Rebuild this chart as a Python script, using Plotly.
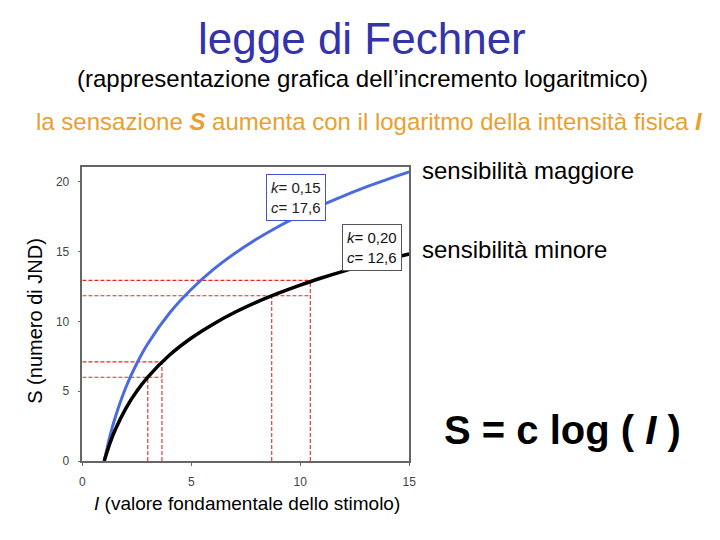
import plotly.graph_objects as go

# valori
intensita = [1, 1.25, 1.5, 2, 2.5, 3, 4, 5, 6, 7, 8, 9, 10, 11, 12, 13, 14, 15]
s_maggiore = [0, 1.71, 3.10, 5.30, 7.00, 8.40, 10.60, 12.30, 13.70, 14.87,
              15.89, 16.79, 17.60, 18.33, 18.99, 19.61, 20.17, 20.70]
s_minore = [0, 1.22, 2.22, 3.79, 5.01, 6.01, 7.59, 8.81, 9.80, 10.65,
            11.38, 12.02, 12.60, 13.12, 13.60, 14.04, 14.44, 14.82]

# linee rosse di riferimento (coppie)
guide_x = [[3.0, 3.65], [8.69, 10.46]]
guide_y = [[6.0, 7.1], [11.83, 12.93]]

x_ticks = [0, 5, 10, 15]
y_ticks = [0, 5, 10, 15, 20]

FONT = "Liberation Sans, Arial, sans-serif"
ROSSO = "#e02828"
SY = 0.987  # la foto schiaccia un po' in verticale
SX = 0.993


def px(v):
    return v / SX / 720


def py(v):
    # pixel verticale del riferimento -> coordinata paper
    return 1 - v / SY / 540


fig = go.Figure()

# guide tratteggiate
for gx, gy in zip(guide_x, guide_y):
    destra = max(gx)
    for xv, yv in zip(gx, gy):
        fig.add_trace(go.Scatter(x=[0, destra], y=[yv, yv], mode="lines",
                                 line=dict(color=ROSSO, width=1.1, dash="4px,2px"),
                                 hoverinfo="skip"))
        fig.add_trace(go.Scatter(x=[xv, xv], y=[0, yv], mode="lines",
                                 line=dict(color=ROSSO, width=1.1, dash="4px,2px"),
                                 hoverinfo="skip"))

fig.add_trace(go.Scatter(x=intensita, y=s_maggiore, mode="lines", line_shape="spline",
                         line=dict(color="#4a6be0", width=3)))
fig.add_trace(go.Scatter(x=intensita, y=s_minore, mode="lines", line_shape="spline",
                         line=dict(color="black", width=3.5)))

asse = dict(showgrid=False, zeroline=False, showline=True, linecolor="#666666",
            linewidth=1.5, mirror=True, ticks="outside", ticklen=3,
            tickcolor="#666666", ticklabelstandoff=6,
            tickfont=dict(size=12, color="#444444", family=FONT))
fig.update_xaxes(range=[0, 15], tickvals=x_ticks, domain=[px(80), px(409)], **asse)
fig.update_yaxes(range=[0, 21.05], tickvals=y_ticks, domain=[py(461), py(167)], **asse)

fig.add_annotation(x=9.8, y=18.9, xref="x", yref="y", showarrow=False, align="left",
                   text="<i>k</i>= 0,15<br><i>c</i>= 17,6", bgcolor="white",
                   bordercolor="#4455cc", borderwidth=1, borderpad=4,
                   font=dict(size=15, color="#222222", family=FONT))
fig.add_annotation(x=13.3, y=15.3, xref="x", yref="y", showarrow=False, align="left",
                   text="<i>k</i>= 0,20<br><i>c</i>= 12,6", bgcolor="white",
                   bordercolor="#555555", borderwidth=1, borderpad=4,
                   font=dict(size=15, color="#111111", family=FONT))

testi = [
    (362, 38, "legge di Fechner", 44, "#3333aa"),
    (362, 78, "(rappresentazione grafica dell\u2019incremento logaritmico)", 24, "black"),
    (369, 121, "la sensazione <b><i>S</i></b> aumenta con il logaritmo della intensit\u00e0 fisica <b><i>I</i></b>",
     24, "#e8a030"),
    (246, 503, "<i>I</i> (valore fondamentale dello stimolo)", 19, "black"),
]
for pxv, pyv, t, size, col in testi:
    fig.add_annotation(x=px(pxv), y=py(pyv), xref="paper", yref="paper", showarrow=False,
                       xanchor="center", yanchor="middle",
                       text=t, font=dict(size=size, color=col, family=FONT))

fig.add_annotation(x=px(32), y=py(321), xref="paper", yref="paper", showarrow=False,
                   xanchor="center", yanchor="middle", text="S (numero di JND)", textangle=-90,
                   font=dict(size=20, color="black", family=FONT))

for pyv, t in [(170, "sensibilit\u00e0 maggiore"), (249, "sensibilit\u00e0 minore")]:
    fig.add_annotation(x=px(420), y=py(pyv), xref="paper", yref="paper", showarrow=False,
                       xanchor="left", yanchor="middle", text=t,
                       font=dict(size=24, color="black", family=FONT))

fig.add_annotation(x=px(442), y=py(430), xref="paper", yref="paper", showarrow=False,
                   xanchor="left", yanchor="middle", text="<b>S = c log ( <i>I</i> )</b>",
                   font=dict(size=40, color="black", family=FONT))

fig.update_layout(width=720, height=540, margin=dict(l=0, r=0, t=0, b=0),
                  showlegend=False, plot_bgcolor="white", paper_bgcolor="white")

# niente margine della pagina, cosi il grafico parte da (0, 0)
fig.write_html("out.html", config={"displayModeBar": False},
               post_script="document.body.style.margin='0';")
